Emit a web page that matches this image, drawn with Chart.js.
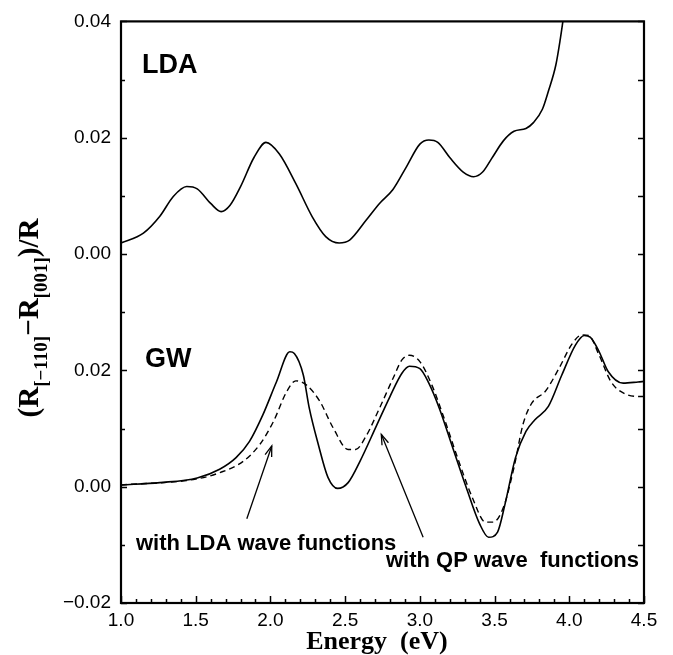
<!DOCTYPE html>
<html><head><meta charset="utf-8">
<script src="https://cdn.jsdelivr.net/npm/chart.js@4.4.0/dist/chart.umd.min.js"></script>
<style>html,body{margin:0;padding:0;background:#fff;}#wrap{width:673px;height:655px;}</style>
</head><body><div id="wrap"><canvas id="c" width="673" height="655"></canvas></div>
<script>
// ---- data ----
const LDA_OFFSET = 0.04; // LDA panel is drawn 0.04 above the GW panel
const ldaEnergy = [1.00,1.15,1.26,1.35,1.44,1.51,1.60,1.67,1.73,1.80,1.89,1.97,2.06,2.17,2.28,2.37,2.46,2.53,2.64,2.73,2.82,2.91,3.00,3.06,3.12,3.20,3.29,3.36,3.42,3.48,3.56,3.63,3.71,3.76,3.82,3.86,3.91,3.94,3.96,3.98];
const ldaValues = [0.0019,0.0036,0.0065,0.0099,0.0116,0.0112,0.0087,0.0073,0.0084,0.0116,0.0166,0.0192,0.0172,0.0121,0.0064,0.0030,0.0019,0.0024,0.0058,0.0087,0.0111,0.0150,0.0189,0.0196,0.0192,0.0166,0.0141,0.0133,0.0141,0.0164,0.0195,0.0211,0.0216,0.0226,0.0249,0.0280,0.0325,0.0370,0.0405,0.0440];
const gwQpEnergy = [1.00,1.26,1.51,1.66,1.77,1.86,1.95,2.04,2.13,2.16,2.22,2.26,2.32,2.385,2.45,2.52,2.60,2.71,2.80,2.88,2.93,3.00,3.06,3.13,3.22,3.31,3.40,3.46,3.52,3.57,3.64,3.71,3.77,3.86,3.95,4.04,4.10,4.14,4.20,4.26,4.36,4.46,4.50];
const gwQpValues = [0.0003,0.0007,0.0015,0.0030,0.0050,0.0078,0.0124,0.0180,0.0232,0.0229,0.0192,0.0135,0.0073,0.0016,-0.0003,0.0007,0.0044,0.0105,0.0155,0.0195,0.0207,0.0203,0.0178,0.0135,0.0067,-0.0001,-0.0064,-0.0087,-0.0078,-0.0030,0.0050,0.0095,0.0115,0.0138,0.0192,0.0243,0.0260,0.0257,0.0232,0.0198,0.0178,0.0180,0.0181];
const gwLdaEnergy = [1.00,1.50,1.66,1.82,1.93,2.02,2.11,2.17,2.24,2.33,2.42,2.52,2.57,2.64,2.73,2.82,2.88,2.93,3.00,3.08,3.17,3.26,3.35,3.44,3.49,3.56,3.63,3.69,3.75,3.84,3.93,4.02,4.085,4.13,4.20,4.28,4.37,4.48,4.50];
const gwLdaValues = [0.0003,0.0013,0.0024,0.0044,0.0073,0.0112,0.0164,0.0182,0.0175,0.0147,0.0101,0.0064,0.0064,0.0087,0.0135,0.0186,0.0218,0.0226,0.0215,0.0175,0.0112,0.0044,-0.0018,-0.0061,-0.0061,-0.0035,0.0033,0.0107,0.0144,0.0164,0.0203,0.0246,0.0261,0.0260,0.0226,0.0180,0.0160,0.0155,0.0155];
const xTickLabels = ['1.0','1.5','2.0','2.5','3.0','3.5','4.0','4.5'];
const yTickLabels = ['\u22120.02','0.00','0.02','0.00','0.02','0.04'];
// arrows in data units: [tailE, tailV, headE, headV]
const arrowLdaWf = [1.842, -0.0055, 2.009, 0.0070];
const arrowQpWf = [3.022, -0.0087, 2.742, 0.0090];

const pts = (xs, ys, off) => xs.map((x, i) => ({x: x, y: ys[i] + off}));

const tickFont = {family: '"Liberation Sans", Arial, sans-serif', size: 19};

const decor = {
  id: 'decor',
  afterDraw(chart) {
    const ctx = chart.ctx, a = chart.chartArea;
    const xs = chart.scales.x, ys = chart.scales.y;
    ctx.save();
    ctx.strokeStyle = '#000';
    ctx.fillStyle = '#000';
    // frame
    ctx.lineWidth = 2.2;
    ctx.strokeRect(a.left, a.top, a.right - a.left, a.bottom - a.top);
    // ticks
    ctx.lineWidth = 1.5;
    ctx.beginPath();
    for (let k = -2; k <= 8; k++) {
      const y = Math.round(ys.getPixelForValue(k / 100)) + 0.5;
      const len = (k % 2 === 0) ? 6 : 4;
      ctx.moveTo(a.left, y); ctx.lineTo(a.left + len, y);
      ctx.moveTo(a.right, y); ctx.lineTo(a.right - 6, y);
    }
    for (let k = 10; k <= 45; k++) {
      const x = Math.round(xs.getPixelForValue(k / 10)) + 0.5;
      const len = (k % 5 === 0) ? 7 : 4;
      ctx.moveTo(x, a.bottom); ctx.lineTo(x, a.bottom - len);
    }
    ctx.stroke();
    // panel labels
    ctx.font = 'bold 27px "Liberation Sans", Arial, sans-serif';
    ctx.textAlign = 'left'; ctx.textBaseline = 'alphabetic';
    ctx.fillText('LDA', 142, 73);
    ctx.fillText('GW', 145, 367);
    ctx.font = 'bold 22px "Liberation Sans", Arial, sans-serif';
    ctx.fillText('with LDA wave functions', 136, 550);
    ctx.fillText('with QP wave  functions', 386, 567);
    // arrows
    const drawArrow = (arr) => {
      const x1 = xs.getPixelForValue(arr[0]), y1 = ys.getPixelForValue(arr[1]);
      const x2 = xs.getPixelForValue(arr[2]), y2 = ys.getPixelForValue(arr[3]);
      ctx.lineWidth = 1.3;
      ctx.beginPath(); ctx.moveTo(x1, y1); ctx.lineTo(x2, y2); ctx.stroke();
      const ang = Math.atan2(y2 - y1, x2 - x1), L = 11, w = 0.32;
      ctx.beginPath();
      ctx.moveTo(x2 - L * Math.cos(ang - w), y2 - L * Math.sin(ang - w));
      ctx.lineTo(x2, y2);
      ctx.lineTo(x2 - L * Math.cos(ang + w), y2 - L * Math.sin(ang + w));
      ctx.stroke();
    };
    drawArrow(arrowLdaWf);
    drawArrow(arrowQpWf);
    // x title
    ctx.font = 'bold 26px "Liberation Serif", "Times New Roman", serif';
    ctx.textAlign = 'center';
    ctx.fillText('Energy  (eV)', 377, 649);
    // y title with subscripts
    const segs = [['(R', 0], ['[\u2212110]', 1], ['\u2212R', 0], ['[001]', 1], [')/R', 0]];
    const mainF = 'bold 29px "Liberation Serif", "Times New Roman", serif';
    const subF = 'bold 19px "Liberation Serif", "Times New Roman", serif';
    let total = 0;
    segs.forEach(s => { ctx.font = s[1] ? subF : mainF; total += ctx.measureText(s[0]).width; });
    ctx.translate(38, 318);
    ctx.rotate(-Math.PI / 2);
    ctx.textAlign = 'left';
    let cx = -total / 2;
    segs.forEach(s => {
      ctx.font = s[1] ? subF : mainF;
      ctx.fillText(s[0], cx, s[1] ? 9 : 0);
      cx += ctx.measureText(s[0]).width;
    });
    ctx.restore();
  }
};

new Chart(document.getElementById('c'), {
  type: 'line',
  data: {
    datasets: [
      {label: 'LDA', data: pts(ldaEnergy, ldaValues, LDA_OFFSET), borderColor: '#000', borderWidth: 1.6, pointRadius: 0, cubicInterpolationMode: 'monotone', fill: false},
      {label: 'GW, with QP wave functions', data: pts(gwQpEnergy, gwQpValues, 0), borderColor: '#000', borderWidth: 1.6, pointRadius: 0, cubicInterpolationMode: 'monotone', fill: false},
      {label: 'GW, with LDA wave functions', data: pts(gwLdaEnergy, gwLdaValues, 0), borderColor: '#000', borderWidth: 1.4, borderDash: [6, 4], pointRadius: 0, cubicInterpolationMode: 'monotone', fill: false}
    ]
  },
  options: {
    responsive: false,
    animation: false,
    devicePixelRatio: 1,
    layout: {padding: {top: 16, right: 29, left: 0, bottom: 0}},
    plugins: {legend: {display: false}, tooltip: {enabled: false}},
    scales: {
      x: {
        type: 'linear', min: 1, max: 4.5,
        grid: {display: false, drawTicks: false},
        border: {display: false},
        ticks: {stepSize: 0.5, color: '#000', font: tickFont, padding: 6, maxRotation: 0,
          callback: (v, i) => xTickLabels[i]},
        afterFit: s => { s.height = 52; }
      },
      y: {
        type: 'linear', min: -0.02, max: 0.08,
        grid: {display: false, drawTicks: false},
        border: {display: false},
        ticks: {stepSize: 0.02, color: '#000', font: tickFont, padding: 10,
          callback: (v, i) => yTickLabels[i]},
        afterFit: s => { s.width = 121; }
      }
    }
  },
  plugins: [decor]
});
</script></body></html>
